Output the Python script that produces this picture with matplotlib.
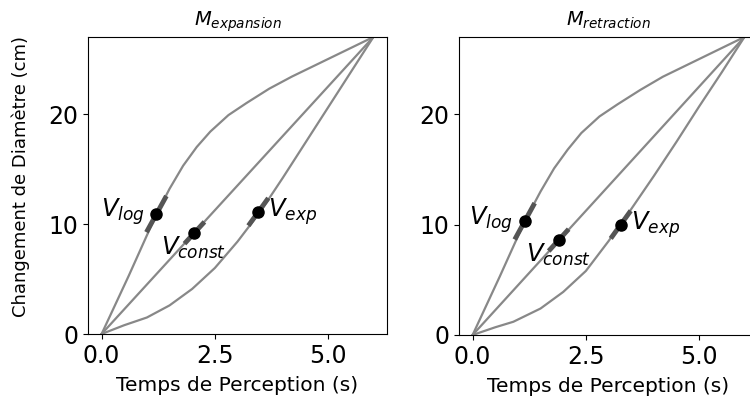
import matplotlib.pyplot as plt
import numpy as np

# valeurs
titles = ["$M_{expansion}$", "$M_{retraction}$"]

t_log_exp = [0, 0.6, 1.2, 1.5, 1.8, 2.1, 2.4, 2.8, 3.2, 3.7, 4.2, 4.8, 5.4, 6.0]
d_log_exp = [0, 5.3, 10.8, 13.2, 15.3, 17.0, 18.4, 19.9, 21.0, 22.3, 23.4, 24.6, 25.8, 27.0]
t_lin_exp = [0, 6.0]
d_lin_exp = [0, 27.0]
t_ex_exp = [0, 0.5, 1.0, 1.5, 2.0, 2.5, 3.0, 3.5, 4.0, 4.5, 5.0, 5.5, 6.0]
d_ex_exp = [0, 0.8, 1.5, 2.6, 4.1, 6.0, 8.4, 11.1, 14.2, 17.4, 20.6, 23.8, 27.0]

t_log_ret = [0, 0.6, 1.15, 1.5, 1.8, 2.1, 2.4, 2.8, 3.2, 3.7, 4.2, 4.8, 5.4, 6.0]
d_log_ret = [0, 5.3, 10.3, 13.0, 15.1, 16.8, 18.3, 19.8, 20.9, 22.2, 23.4, 24.6, 25.8, 27.0]
t_lin_ret = [0, 6.0]
d_lin_ret = [0, 27.0]
t_ex_ret = [0, 0.5, 0.9, 1.5, 2.0, 2.5, 3.0, 3.5, 4.0, 4.5, 5.0, 5.5, 6.0]
d_ex_ret = [0, 0.7, 1.2, 2.4, 3.9, 5.8, 8.5, 11.4, 14.4, 17.5, 20.7, 23.8, 27.0]

# points marqués (x, y, pente)
pts_exp = [(1.21, 10.9, 7.5), (2.05, 9.2, 4.5), (3.46, 11.1, 5.7)]
pts_ret = [(1.15, 10.3, 7.5), (1.90, 8.6, 4.5), (3.27, 10.0, 5.7)]
vnames = ["$V_{log}$", "$V_{const}$", "$V_{exp}$"]
# décalages du texte (pixels) et alignement
txt_off = [(-12, 2, 'right'), (-33, -15, 'left'), (10, 0, 'left')]

fig = plt.figure(figsize=(7.5, 4.04), dpi=100)
ax1 = fig.add_axes([88/750, 70/404, 299/750, 297/404])
ax2 = fig.add_axes([459/750, 69/404, 299/750, 298/404])

data = [
    (ax1, [(t_log_exp, d_log_exp), (t_lin_exp, d_lin_exp), (t_ex_exp, d_ex_exp)], pts_exp, titles[0]),
    (ax2, [(t_log_ret, d_log_ret), (t_lin_ret, d_lin_ret), (t_ex_ret, d_ex_ret)], pts_ret, titles[1]),
]

for ax, curves, pts, title in data:
    for t, d in curves:
        ax.plot(t, d, color='#888888', lw=1.6)
    for (px, py, s), name, (ox, oy, ha) in zip(pts, vnames, txt_off):
        dx = 0.22
        ax.plot([px - dx, px + dx], [py - s*dx, py + s*dx], color='#555555', lw=3.5,
                solid_capstyle='butt')
        ax.plot(px, py, 'o', color='black', markersize=8)
        ax.annotate(name, (px, py), xytext=(ox, oy), textcoords='offset pixels',
                    ha=ha, va='center', fontsize=17.5)
    ax.set_xlim(-0.3, 6.3)
    ax.set_ylim(0, 27)
    ax.set_xticks([0, 2.5, 5.0])
    ax.set_yticks([0, 10, 20])
    ax.tick_params(labelsize=17)
    ax.set_title(title, fontsize=14, pad=8)
    ax.set_xlabel("Temps de Perception (s)", fontsize=14.5, labelpad=6)

ax1.set_ylabel("Changement de Diamètre (cm)", fontsize=13)
ax1.yaxis.set_label_coords(-0.195, 0.53)

plt.savefig("out.png", dpi=100)
